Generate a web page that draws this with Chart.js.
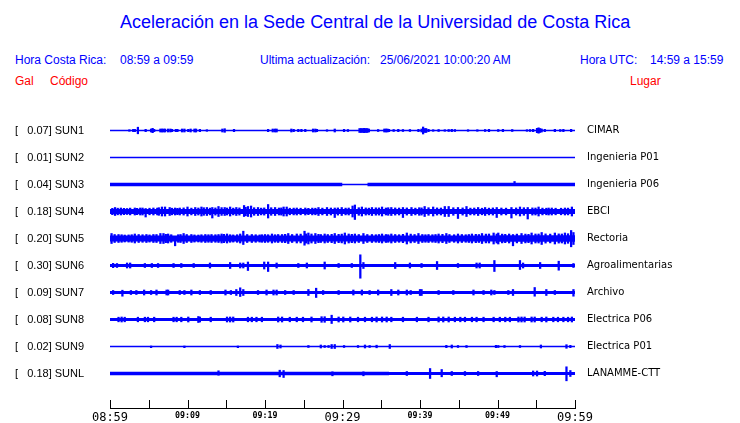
<!DOCTYPE html>
<html>
<head>
<meta charset="utf-8">
<script src="https://cdn.jsdelivr.net/npm/chart.js@4/dist/chart.umd.min.js"></script>
<style>
  body { margin: 0; background: #fff; }
  #wrap { position: relative; width: 740px; height: 423px; font-family: "Liberation Sans", Arial, sans-serif; }
  #wrap canvas { position: absolute; left: 0; top: 0; }
  .t { position: absolute; white-space: pre; line-height: 1; }
  .blue { color: #0000ff; }
  .red { color: #ff0000; }
</style>
</head>
<body>
<div id="wrap">
  <div class="t blue" style="left:120px;top:13px;font-size:18px">Aceleración en la Sede Central de la Universidad de Costa Rica</div>
  <div class="t blue" style="left:15px;top:54px;font-size:12px">Hora Costa Rica:</div>
  <div class="t blue" style="left:120px;top:54px;font-size:12px">08:59 a 09:59</div>
  <div class="t blue" style="left:260px;top:54px;font-size:12px">Ultima actualización:</div>
  <div class="t blue" style="left:380px;top:54px;font-size:12px">25/06/2021 10:00:20 AM</div>
  <div class="t blue" style="left:580px;top:54px;font-size:12px">Hora UTC:</div>
  <div class="t blue" style="left:650px;top:54px;font-size:12px">14:59 a 15:59</div>
  <div class="t red" style="left:15px;top:75px;font-size:12px">Gal</div>
  <div class="t red" style="left:50px;top:75px;font-size:12px">Código</div>
  <div class="t red" style="left:630px;top:75px;font-size:12px">Lugar</div>
  <canvas id="sismo" width="740" height="423"></canvas>
</div>
<script>
// estaciones
const codes = ["SUN1", "SUN2", "SUN3", "SUN4", "SUN5", "SUN6", "SUN7", "SUN8", "SUN9", "SUNL"];
const gal = [0.07, 0.01, 0.04, 0.18, 0.20, 0.30, 0.09, 0.08, 0.02, 0.18];
const places = ["CIMAR", "Ingenieria P01", "Ingenieria P06", "EBCI", "Rectoria", "Agroalimentarias",
  "Archivo", "Electrica P06", "Electrica P01", "LANAMME-CTT"];
const timeLabels = ["08:59", "09:09", "09:19", "09:29", "09:39", "09:49", "09:59"];

// ruido de fondo: [min inicio, min fin, semi-amplitud]
const sun1Band = [];
const sun2Band = [];
const sun3Band = [[0, 30.0, 1.7], [33.2, 60, 1.7]];
const sun4Band = [[0, 60, 2.5]];
const sun5Band = [[0, 50, 2.9], [50, 60, 3.2]];
const sun6Band = [[0, 60, 1.6]];
const sun7Band = [[0, 60, 1.6]];
const sun8Band = [[0, 60, 1.6]];
const sun9Band = [];
const sunlBand = [[0, 36, 1.8], [36, 60, 1.4]];

// picos: [minuto, arriba, abajo]
const sun1Spikes = [[2.5, 0.8], [3.0, 1.2], [3.2, 1.2], [3.6, 3.3], [4.6, 1.2], [5.3, 1.5], [5.5, 2.2], [5.7, 1.2],
  [6.5, 1.5], [6.7, 1.5], [6.9, 1.5], [7.1, 1.5], [7.5, 1.5], [7.8, 1.5], [8.0, 1.2], [8.5, 1.2], [8.7, 1.2],
  [9.3, 1.5], [9.6, 1.5], [10.1, 1.2], [10.4, 1.5], [10.9, 1.5], [11.1, 1.5], [11.6, 1.2], [12.5, 0.8],
  [14.5, 1.5], [14.8, 1.8], [16.0, 1.2], [20.4, 1.2], [21.0, 1.5], [21.3, 1.5], [21.5, 1.5], [23.4, 1.5],
  [23.7, 1.2], [24.3, 1.2], [24.7, 1.2], [25.2, 1.2], [26.2, 1.5], [26.5, 1.5], [26.7, 1.2], [28.0, 0.8],
  [29.0, 1.5], [30.2, 1.2], [30.7, 1], [32.2, 2], [32.4, 2], [32.6, 2], [32.8, 2.2], [33.0, 2], [33.2, 2],
  [33.4, 1.5], [34.6, 1], [35.4, 1.5], [35.6, 1.5], [35.8, 1.5], [36.0, 1.2], [36.6, 1], [37.2, 1.2],
  [37.8, 1], [38.7, 1], [39.8, 1.2], [40.2, 1.5], [40.4, 3.5], [40.6, 2], [40.8, 2], [41.1, 1.2], [41.7, 0.8],
  [42.4, 1], [43.2, 0.8], [43.7, 1], [44.1, 1.2], [44.5, 1], [46.2, 0.8], [47.4, 0.8], [48.4, 1], [48.9, 1.2],
  [50.1, 1], [50.7, 1.2], [51.9, 1], [53.8, 0.8], [54.2, 1], [54.6, 1.2], [55.1, 2.2], [55.3, 2.7], [55.5, 2],
  [55.7, 1.5], [56.1, 1.2], [57.4, 1.2], [58.1, 1], [58.5, 1.2], [59.5, 1.2]];
const sun2Spikes = [];
const sun3Spikes = [[52.2, 3, 0.5]];
const sun4Spikes = [[0.65, 4], [1.4, 3.5], [2.2, 3], [3.2, 3.5], [3.9, 3.5], [4.6, 3, 5.5], [5.6, 3.5], [6.7, 4.5],
  [7.1, 4.5], [7.7, 4], [8.4, 3.5], [9.0, 3.5], [10.0, 4.5], [11.0, 4], [11.8, 4.5], [12.5, 4], [13.2, 4, 6.5],
  [14.0, 5], [14.8, 4], [15.5, 4.5], [16.3, 4], [17.3, 6, 5], [17.8, 5], [18.2, 5.5], [19.1, 4], [20.4, 7, 6.5],
  [21.3, 4], [22.4, 4.5], [22.8, 4.5], [24.1, 3.5], [25.2, 3.5], [26.9, 4], [28.0, 4], [29.0, 3.5, 6], [29.9, 4],
  [31.3, 5.5], [31.6, 6.5, 8], [32.5, 4.5], [33.8, 4], [35.1, 4.5], [36.3, 4], [37.8, 4, 6], [38.9, 4], [40.6, 5],
  [41.7, 4.5], [43.2, 5], [43.7, 5], [44.9, 4, 7], [46.0, 5], [47.5, 4], [48.4, 4], [49.9, 4, 6], [51.8, 4, 6.5],
  [52.9, 4.5], [53.9, 4, 7.5], [55.3, 4.5], [57.0, 3.5], [58.7, 3.5], [59.6, 4.5]];
const sun4Small = [[0.3, 3.2], [1.0, 3.3], [1.8, 3.2], [2.6, 3.4], [3.5, 3.2], [4.2, 3.5], [5.1, 3.3], [6.1, 3.4],
  [6.3, 3.8], [8.0, 3.3], [8.7, 3.2], [9.5, 3.6], [10.5, 3.4], [11.4, 3.5], [12.1, 3.8], [12.9, 3.4], [13.6, 3.6],
  [14.4, 3.9], [15.1, 3.5], [15.9, 3.4], [16.7, 3.6], [17.5, 4.2], [18.6, 3.8], [19.5, 3.4], [19.9, 3.6],
  [20.8, 3.8], [21.8, 3.5], [22.1, 3.6], [23.2, 3.3], [23.7, 3.4], [24.6, 3.3], [25.6, 3.2], [26.1, 3.4],
  [26.5, 3.3], [27.4, 3.4], [28.5, 3.5], [29.4, 3.6], [30.4, 3.4], [30.8, 3.5], [32.1, 3.8], [33.0, 3.6],
  [33.4, 3.4], [34.3, 3.7], [34.7, 3.6], [35.6, 3.5], [35.9, 3.8], [36.8, 3.6], [37.3, 3.5], [38.3, 3.6],
  [39.4, 3.4], [39.9, 3.8], [40.2, 3.6], [41.1, 3.8], [42.2, 3.6], [42.7, 3.5], [44.3, 3.8], [45.5, 3.6],
  [46.5, 3.4], [47.0, 3.5], [48.0, 3.3], [48.9, 3.4], [49.4, 3.6], [50.5, 3.5], [51.1, 3.4], [52.4, 3.6],
  [53.4, 3.8], [54.5, 3.6], [54.9, 3.5], [55.8, 3.4], [56.3, 3.3], [56.6, 3.5], [57.5, 3.3], [58.2, 3.3], [59.1, 3.4]];
const sun5Spikes = [[0.2, 5], [1.1, 4], [1.9, 3.5], [3.2, 4.5], [3.7, 4], [4.7, 4], [5.6, 4], [6.5, 5], [6.9, 5],
  [7.5, 4.5], [8.4, 2, 7.3], [9.5, 5], [10.5, 4], [11.4, 3.5], [12.3, 4], [13.1, 4], [14.4, 4.5], [15.1, 4.5],
  [17.2, 7.3, 6], [18.3, 4], [20.0, 4], [20.9, 4.5], [21.7, 4], [23.0, 5], [24.1, 4.5], [25.1, 7.3, 6.7],
  [25.6, 5.5], [26.5, 5], [27.7, 4.5], [29.0, 5], [30.3, 5.5], [31.6, 4.5], [32.7, 5], [33.8, 4], [35.1, 4.5],
  [36.3, 4.5], [38.3, 5.5], [39.8, 5], [41.1, 4], [42.4, 4.5], [43.4, 5], [44.9, 4.5], [46.7, 4.5], [48.0, 5],
  [49.5, 5.5], [50.1, 5.5], [52.0, 4, 7.3], [53.1, 5], [54.4, 5.5], [55.7, 6], [57.4, 5.5], [58.7, 5.5],
  [59.5, 8, 8.3], [59.8, 6]];
const sun5Small = [[0.6, 4], [1.5, 3.8], [2.4, 3.6], [2.8, 3.8], [4.2, 3.8], [5.1, 3.6], [6.0, 4], [7.2, 4.2],
  [7.9, 3.8], [8.8, 3.8], [9.1, 4], [9.9, 4], [10.9, 3.6], [11.8, 3.8], [12.7, 3.8], [13.6, 3.8], [14.0, 4],
  [14.7, 4.2], [15.5, 3.8], [15.9, 3.6], [16.4, 3.8], [16.8, 4.5], [17.7, 4], [18.8, 3.8], [19.3, 3.6], [19.6, 3.8],
  [20.4, 3.8], [21.3, 3.8], [22.2, 4], [22.6, 4.2], [23.5, 4], [24.6, 4.4], [25.3, 4.6], [26.0, 4.5], [26.9, 4.2],
  [27.2, 4], [28.1, 4], [28.6, 4.2], [29.5, 4.2], [29.9, 4.4], [30.8, 4.5], [31.2, 4.2], [32.1, 4], [33.2, 4],
  [34.3, 3.8], [34.7, 4], [35.6, 4], [35.9, 3.8], [36.8, 4], [37.3, 3.8], [37.8, 4.2], [38.8, 4.4], [39.3, 4],
  [40.3, 4], [40.7, 3.8], [41.6, 3.8], [42.0, 4], [42.9, 4.2], [43.8, 4], [44.4, 3.8], [45.4, 4], [45.9, 3.8],
  [46.3, 4], [47.2, 4.2], [47.6, 4], [48.5, 4.4], [48.9, 4.5], [49.9, 4.5], [50.6, 4.4], [51.0, 4.2], [51.5, 4.5],
  [52.5, 4.4], [53.6, 4.4], [54.0, 4.2], [54.9, 4.5], [55.3, 4.5], [56.2, 4.6], [56.8, 4.4], [57.9, 4.6],
  [58.3, 4.5], [59.1, 4.8]];
const sun6Spikes = [[0.4, 2.2], [0.9, 2], [2.2, 2.5], [2.6, 2.5], [4.5, 2], [5.4, 2], [6.2, 2], [8.2, 2], [9.2, 2],
  [10.8, 2], [12.9, 2.5], [15.5, 3], [16.8, 2.5], [17.2, 2.5], [17.8, 3.5, 5], [19.9, 3.5], [20.4, 3.5, 6],
  [21.5, 2.5], [24.3, 2], [25.4, 2.5], [27.7, 3.5], [29.5, 2], [31.2, 2], [32.3, 10.7, 12.7], [32.7, 3],
  [36.8, 3], [38.7, 2.5], [40.2, 2], [42.2, 4], [44.9, 2], [47.3, 2.5], [47.7, 2.5], [49.6, 5, 6], [52.9, 5, 4],
  [53.3, 2.5], [55.5, 3], [57.9, 4.3, 4.7], [59.8, 2]];
const sun7Spikes = [[0.4, 2], [1.6, 2.3, 3.7], [2.7, 2], [3.4, 2], [4.4, 2.5], [5.3, 2], [6.0, 2.5], [7.3, 2.5],
  [7.5, 2.5], [9.0, 2], [9.6, 2], [10.5, 2.5], [11.6, 2], [13.0, 2], [14.9, 2.5], [15.6, 2], [16.3, 3],
  [16.8, 4.7, 4], [17.2, 3], [19.1, 2], [20.2, 2.5], [21.1, 2.5], [21.5, 2.5], [22.6, 2], [23.7, 2], [25.6, 3],
  [26.6, 4.3, 5], [27.5, 2], [29.5, 2], [31.4, 2.5], [32.5, 2.5], [33.5, 2], [34.6, 2.5], [36.3, 3], [37.2, 2.5],
  [38.3, 2.5], [38.8, 2], [40.0, 3], [40.2, 3], [42.4, 2], [44.3, 2], [46.9, 2.5], [48.2, 2], [49.2, 2.5],
  [49.6, 2], [51.4, 2], [52.0, 3], [54.8, 5, 3.7], [56.3, 3], [57.4, 2], [59.8, 3, 3.7]];
const sun8Spikes = [[1.1, 2.3], [1.5, 2.5], [1.9, 2.3], [3.6, 2.3], [4.5, 2.3], [4.9, 2.3], [5.7, 2.3], [8.2, 2.3],
  [8.6, 2.3], [9.2, 2.3], [10.1, 2.5], [11.4, 3], [11.6, 2.5], [13.0, 2.3], [15.1, 2.5], [15.5, 2.5], [15.9, 2.5],
  [17.8, 2.3], [18.3, 2.3], [18.9, 2.3], [19.6, 2.3], [21.7, 2.5], [22.2, 2.5], [23.2, 2.3], [24.1, 2.3],
  [24.9, 2.3], [26.0, 2.5], [27.3, 2.8], [27.7, 2.8], [28.6, 4.3, 4], [29.5, 2.5], [30.1, 2.5], [31.0, 2.5],
  [32.0, 2.3], [32.9, 2.3], [33.8, 2.3], [34.4, 2.5], [35.1, 2.5], [35.7, 2.5], [36.3, 2.3], [37.8, 2.3],
  [39.6, 2.3], [41.1, 2.3], [42.4, 2.5], [43.0, 2.5], [43.7, 2.5], [44.5, 2.3], [45.2, 2.3], [45.8, 2.3],
  [46.7, 2.3], [47.3, 2.3], [48.2, 2.3], [49.5, 2.3], [50.3, 2.3], [51.0, 2.3], [51.6, 2.3], [52.7, 2.5],
  [53.1, 2.5], [53.5, 2.5], [54.4, 2.5], [54.8, 2.5], [55.7, 2.3], [56.3, 2.5], [57.2, 2.3], [57.8, 2.3],
  [58.5, 2.3], [59.1, 2.3], [59.6, 2.5]];
const sun9Spikes = [[5.3, 0.5, 1.2], [9.6, 0.5, 1.2], [16.5, 0.5, 1.2], [21.6, 2], [22.0, 1.5], [25.6, 1],
  [27.2, 1.5], [27.7, 1], [28.2, 1], [28.6, 2], [29.0, 2], [30.2, 1], [32.0, 1], [32.9, 1.5], [33.5, 1],
  [34.4, 1.3], [36.1, 2], [43.4, 1.2], [44.1, 1.5], [44.9, 1], [46.0, 1], [49.8, 1.2], [50.1, 1], [50.9, 1],
  [52.9, 1], [55.6, 1.5], [58.9, 1.8], [59.4, 1.2]];
const sunlSpikes = [[14.0, 2.7, 1.7], [21.9, 3.3], [22.4, 3, 4], [28.7, 1.7, 2.3], [32.7, 1.7, 2.3], [38.3, 2],
  [41.3, 5], [42.8, 4, 3.3], [44.1, 2], [45.8, 2], [47.5, 2], [49.9, 2, 3.3], [54.6, 2.5], [55.1, 2.5],
  [56.1, 2.2], [58.9, 6.7, 7.3], [59.4, 3]];

const bands = [sun1Band, sun2Band, sun3Band, sun4Band, sun5Band, sun6Band, sun7Band, sun8Band, sun9Band, sunlBand];
const spikes = [sun1Spikes, sun2Spikes, sun3Spikes, sun4Spikes.concat(sun4Small), sun5Spikes.concat(sun5Small),
  sun6Spikes, sun7Spikes, sun8Spikes, sun9Spikes, sunlSpikes];

const BLUE = "#0000ff";
const ROW_TOP = 30;
const ROW_GAP = 27;
const rowCenter = (i) => ROW_TOP + i * ROW_GAP;

let datasets = [];
codes.forEach((code, i) => {
  const c = rowCenter(i);
  bands[i].forEach((b) => {
    datasets.push({
      type: "line",
      data: [{ x: b[0], y: c - b[2] }, { x: b[1], y: c - b[2] }],
      fill: { value: c + b[2] },
      backgroundColor: BLUE,
      borderColor: "transparent",
      borderWidth: 0,
      pointRadius: 0,
    });
  });
  datasets.push({
    type: "line",
    data: [{ x: 0, y: c }, { x: 60, y: c }],
    borderColor: BLUE,
    borderWidth: 1.3,
    pointRadius: 0,
    fill: false,
  });
  datasets.push({
    type: "bar",
    data: spikes[i].map((s) => ({ x: s[0], y: [c - s[1], c + (s[2] === undefined ? s[1] : s[2])] })),
    backgroundColor: BLUE,
    barThickness: 1.6,
    grouped: false,
  });
});

const rowTicks = (scale) => {
  scale.ticks = codes.map((c, i) => ({ value: rowCenter(i) }));
};
// sin relleno extra arriba/abajo para que el area llegue al eje
const fixWidth = (w) => (scale) => {
  scale.width = w;
  scale.paddingTop = 0;
  scale.paddingBottom = 0;
};

// marcas de tiempo hacia arriba desde el eje
const tickMarks = {
  id: "tickMarks",
  afterDraw(chart) {
    const xs = chart.scales.x;
    const base = chart.chartArea.bottom;
    const ctx = chart.ctx;
    ctx.save();
    ctx.strokeStyle = "#000";
    ctx.lineWidth = 1;
    xs.ticks.forEach((t) => {
      const px = Math.round(xs.getPixelForValue(t.value)) + 0.5;
      ctx.beginPath();
      ctx.moveTo(px, base);
      ctx.lineTo(px, base - 8);
      ctx.stroke();
    });
    ctx.restore();
  },
};

new Chart(document.getElementById("sismo"), {
  type: "line",
  data: { datasets: datasets },
  plugins: [tickMarks],
  options: {
    responsive: false,
    animation: false,
    events: [],
    layout: { padding: { top: 100, left: 15, right: 0, bottom: 0 } },
    plugins: { legend: { display: false }, tooltip: { enabled: false } },
    scales: {
      x: {
        type: "linear",
        min: 0,
        max: 60,
        offset: false,
        grid: { display: true, drawOnChartArea: false, drawTicks: false, offset: false },
        border: { display: true, color: "#000", width: 1 },
        afterFit: (s) => { s.height = 15; s.paddingBottom = 0; },
        ticks: {
          stepSize: 5,
          autoSkip: false,
          maxRotation: 0,
          padding: 3,
          color: "#000",
          callback: (v) => (v % 10 === 0 ? timeLabels[v / 10] : ""),
          font: (ctx) => (ctx.tick && ctx.tick.value % 30 === 0
            ? { family: "DejaVu Sans Mono", size: 12 }
            : { family: "DejaVu Sans Mono", size: 8.3, weight: "bold" }),
        },
      },
      y: {
        position: "left",
        min: -0.5,
        max: 307.5,
        reverse: true,
        grid: { display: false, drawTicks: false },
        border: { display: false },
        afterBuildTicks: rowTicks,
        afterFit: fixWidth(95),
        ticks: {
          crossAlign: "far",
          autoSkip: false,
          color: "#000",
          font: { family: "Liberation Sans", size: 11 },
          callback: (v, i) => "[   " + gal[i].toFixed(2) + "] " + codes[i],
        },
      },
      y2: {
        position: "right",
        min: -0.5,
        max: 307.5,
        reverse: true,
        grid: { display: false, drawTicks: false },
        border: { display: false },
        afterBuildTicks: rowTicks,
        afterFit: fixWidth(165),
        ticks: {
          padding: 12,
          autoSkip: false,
          color: "#000",
          font: { family: "DejaVu Sans", size: 10 },
          callback: (v, i) => places[i],
        },
      },
    },
  },
});
</script>
</body>
</html>
